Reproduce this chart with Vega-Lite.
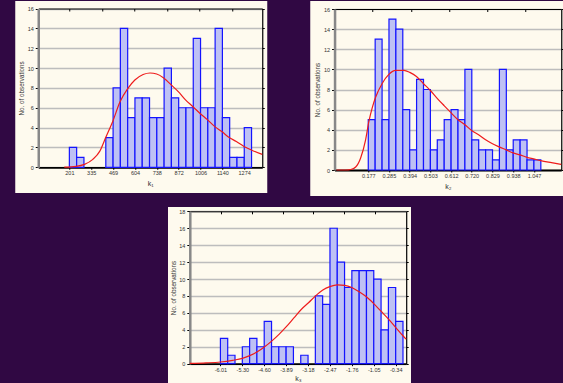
{
  "$schema": "https://vega.github.io/schema/vega-lite/v6.json",
  "background": "#300843",
  "padding": {"left": 15, "top": 1, "right": 0, "bottom": 0},
  "config": {
    "view": {"fill": "#fefaee", "stroke": null},
    "font": "Liberation Sans",
    "axis": {"labelColor": "#333333", "titleColor": "#333333", "labelFontSize": 5.5, "titleFontWeight": "normal", "tickColor": "#000000", "grid": false, "labelFont": "Liberation Sans", "titleFont": "Liberation Sans", "labelFlush": false, "labelOverlap": false}
  },
  "datasets": {
    "k1bins": [
      {"lo": 201.0, "hi": 245.7, "n": 2}, {"lo": 245.7, "hi": 290.5, "n": 1},
      {"lo": 424.7, "hi": 469.4, "n": 3}, {"lo": 469.4, "hi": 514.1, "n": 8},
      {"lo": 514.1, "hi": 558.9, "n": 14}, {"lo": 558.9, "hi": 603.6, "n": 5},
      {"lo": 603.6, "hi": 648.3, "n": 7}, {"lo": 648.3, "hi": 693.1, "n": 7},
      {"lo": 693.1, "hi": 737.8, "n": 5}, {"lo": 737.8, "hi": 782.5, "n": 5},
      {"lo": 782.5, "hi": 827.3, "n": 10}, {"lo": 827.3, "hi": 872.0, "n": 7},
      {"lo": 872.0, "hi": 916.7, "n": 6}, {"lo": 916.7, "hi": 961.5, "n": 6},
      {"lo": 961.5, "hi": 1006.2, "n": 13}, {"lo": 1006.2, "hi": 1050.9, "n": 6},
      {"lo": 1050.9, "hi": 1095.7, "n": 6}, {"lo": 1095.7, "hi": 1140.4, "n": 14},
      {"lo": 1140.4, "hi": 1185.1, "n": 5}, {"lo": 1185.1, "hi": 1229.9, "n": 1},
      {"lo": 1229.9, "hi": 1274.6, "n": 1}, {"lo": 1274.6, "hi": 1319.3, "n": 4}
    ],
    "k1fit": [
      {"x": 170, "y": 0.02}, {"x": 242, "y": 0.1}, {"x": 294, "y": 0.3}, {"x": 345, "y": 0.8},
      {"x": 387, "y": 1.6}, {"x": 424, "y": 3.0}, {"x": 469, "y": 4.7}, {"x": 512, "y": 6.6},
      {"x": 558, "y": 7.9}, {"x": 603, "y": 8.8}, {"x": 654, "y": 9.35}, {"x": 696, "y": 9.5},
      {"x": 737, "y": 9.4}, {"x": 780, "y": 9.0}, {"x": 826, "y": 8.3}, {"x": 871, "y": 7.6},
      {"x": 914, "y": 6.8}, {"x": 960, "y": 6.1}, {"x": 1005, "y": 5.4}, {"x": 1048, "y": 4.8},
      {"x": 1094, "y": 4.1}, {"x": 1137, "y": 3.6}, {"x": 1182, "y": 3.0}, {"x": 1226, "y": 2.6},
      {"x": 1273, "y": 2.1}, {"x": 1324, "y": 1.7}, {"x": 1385, "y": 1.3}
    ],
    "k2bins": [
      {"lo": 0.1770, "hi": 0.2132, "n": 5}, {"lo": 0.2132, "hi": 0.2495, "n": 13},
      {"lo": 0.2495, "hi": 0.2857, "n": 5}, {"lo": 0.2857, "hi": 0.3219, "n": 15},
      {"lo": 0.3219, "hi": 0.3582, "n": 14}, {"lo": 0.3582, "hi": 0.3944, "n": 6},
      {"lo": 0.3944, "hi": 0.4306, "n": 2}, {"lo": 0.4306, "hi": 0.4669, "n": 9},
      {"lo": 0.4669, "hi": 0.5031, "n": 8}, {"lo": 0.5031, "hi": 0.5393, "n": 2},
      {"lo": 0.5393, "hi": 0.5756, "n": 3}, {"lo": 0.5756, "hi": 0.6118, "n": 5},
      {"lo": 0.6118, "hi": 0.6480, "n": 6}, {"lo": 0.6480, "hi": 0.6843, "n": 5},
      {"lo": 0.6843, "hi": 0.7205, "n": 10}, {"lo": 0.7205, "hi": 0.7567, "n": 3},
      {"lo": 0.7567, "hi": 0.7930, "n": 2}, {"lo": 0.7930, "hi": 0.8292, "n": 2},
      {"lo": 0.8292, "hi": 0.8654, "n": 1}, {"lo": 0.8654, "hi": 0.9017, "n": 10},
      {"lo": 0.9017, "hi": 0.9379, "n": 2}, {"lo": 0.9379, "hi": 0.9741, "n": 3},
      {"lo": 0.9741, "hi": 1.0104, "n": 3}, {"lo": 1.0104, "hi": 1.0466, "n": 1},
      {"lo": 1.0466, "hi": 1.0828, "n": 1}
    ],
    "k2fit": [
      {"x": 0.01, "y": 0}, {"x": 0.058, "y": 0}, {"x": 0.085, "y": 0.05}, {"x": 0.111, "y": 0.3},
      {"x": 0.137, "y": 1.2}, {"x": 0.163, "y": 3.0}, {"x": 0.180, "y": 4.8}, {"x": 0.198, "y": 6.2},
      {"x": 0.215, "y": 7.2}, {"x": 0.250, "y": 8.6}, {"x": 0.285, "y": 9.5}, {"x": 0.320, "y": 9.9},
      {"x": 0.364, "y": 9.9}, {"x": 0.395, "y": 9.7}, {"x": 0.430, "y": 9.3}, {"x": 0.466, "y": 8.6},
      {"x": 0.503, "y": 7.9}, {"x": 0.540, "y": 7.1}, {"x": 0.575, "y": 6.4}, {"x": 0.611, "y": 5.7},
      {"x": 0.648, "y": 5.0}, {"x": 0.684, "y": 4.5}, {"x": 0.721, "y": 3.9}, {"x": 0.756, "y": 3.5},
      {"x": 0.793, "y": 3.0}, {"x": 0.829, "y": 2.6}, {"x": 0.864, "y": 2.3}, {"x": 0.901, "y": 2.0},
      {"x": 0.937, "y": 1.7}, {"x": 0.974, "y": 1.5}, {"x": 1.010, "y": 1.26}, {"x": 1.045, "y": 1.1},
      {"x": 1.082, "y": 0.93}, {"x": 1.139, "y": 0.73}, {"x": 1.19, "y": 0.56}
    ],
    "k3bins": [
      {"lo": -6.010, "hi": -5.774, "n": 3}, {"lo": -5.774, "hi": -5.538, "n": 1},
      {"lo": -5.301, "hi": -5.065, "n": 2}, {"lo": -5.065, "hi": -4.829, "n": 3},
      {"lo": -4.829, "hi": -4.593, "n": 2}, {"lo": -4.593, "hi": -4.356, "n": 5},
      {"lo": -4.356, "hi": -4.120, "n": 2}, {"lo": -4.120, "hi": -3.884, "n": 2},
      {"lo": -3.884, "hi": -3.648, "n": 2}, {"lo": -3.411, "hi": -3.175, "n": 1},
      {"lo": -2.939, "hi": -2.703, "n": 8}, {"lo": -2.703, "hi": -2.466, "n": 7},
      {"lo": -2.466, "hi": -2.230, "n": 16}, {"lo": -2.230, "hi": -1.994, "n": 12},
      {"lo": -1.994, "hi": -1.758, "n": 9}, {"lo": -1.758, "hi": -1.521, "n": 11},
      {"lo": -1.521, "hi": -1.285, "n": 11}, {"lo": -1.285, "hi": -1.049, "n": 11},
      {"lo": -1.049, "hi": -0.813, "n": 10}, {"lo": -0.813, "hi": -0.576, "n": 4},
      {"lo": -0.576, "hi": -0.340, "n": 9}, {"lo": -0.340, "hi": -0.104, "n": 5}
    ],
    "k3fit": [
      {"x": -7.0, "y": 0.04}, {"x": -6.473, "y": 0.1}, {"x": -6.01, "y": 0.2}, {"x": -5.612, "y": 0.4},
      {"x": -5.300, "y": 0.63}, {"x": -5.063, "y": 0.95}, {"x": -4.816, "y": 1.4}, {"x": -4.579, "y": 2.0},
      {"x": -4.343, "y": 2.7}, {"x": -4.106, "y": 3.5}, {"x": -3.870, "y": 4.4}, {"x": -3.633, "y": 5.4},
      {"x": -3.396, "y": 6.4}, {"x": -3.160, "y": 7.2}, {"x": -2.934, "y": 8.0}, {"x": -2.697, "y": 8.7},
      {"x": -2.471, "y": 9.1}, {"x": -2.224, "y": 9.3}, {"x": -1.987, "y": 9.25}, {"x": -1.761, "y": 9.0},
      {"x": -1.525, "y": 8.5}, {"x": -1.288, "y": 7.9}, {"x": -1.051, "y": 7.1}, {"x": -0.815, "y": 6.2},
      {"x": -0.578, "y": 5.3}, {"x": -0.342, "y": 4.3}, {"x": -0.105, "y": 3.3}, {"x": 0.0, "y": 2.9}
    ]
  },
  "spacing": 11,
  "center": true,
  "vconcat": [
    {
      "spacing": 43,
      "hconcat": [
        {
          "width": 252, "height": 192,
          "resolve": {"axis": {"x": "independent", "y": "independent"}},
          "layer": [
            {
              "data": {"name": "k1bins"},
              "mark": {"type": "rect", "fill": "#bec1f4", "stroke": "#1414ff", "strokeWidth": 1.2},
              "encoding": {
                "x": {"field": "lo", "type": "quantitative", "scale": {"domain": [10, 1385], "range": [23, 247], "zero": false, "nice": false},
                  "axis": {"orient": "bottom", "offset": -25.7, "values": [201, 335, 469, 604, 738, 872, 1006, 1140, 1274], "format": "d", "title": "k₁", "titleFontSize": 7, "titlePadding": 3, "tickSize": 2, "labelPadding": 1.5, "domainColor": "#000000", "domainWidth": 1.8}},
                "x2": {"field": "hi"},
                "y": {"field": "n", "type": "quantitative", "scale": {"domain": [0, 16], "range": [166.3, 7.5], "zero": false, "nice": false},
                  "axis": {"orient": "left", "offset": -23, "values": [0, 2, 4, 6, 8, 10, 12, 14, 16], "title": "No. of observations", "titleFontSize": 6.3, "titlePadding": 3, "tickSize": 3, "labelPadding": 2, "domainColor": "#888888", "domainWidth": 2.5, "grid": true, "gridColor": "#bdbdbd", "gridWidth": 1.6}},
                "y2": {"datum": 0}
              }
            },
            {
              "data": {"name": "k1fit"},
              "mark": {"type": "line", "color": "#ee1c1c", "strokeWidth": 1.2, "interpolate": "monotone"},
              "encoding": {
                "x": {"field": "x", "type": "quantitative", "scale": {"domain": [10, 1385], "range": [23, 247], "zero": false, "nice": false},
                  "axis": {"orient": "top", "offset": -7.5, "values": [200, 400, 600, 800, 1000, 1200], "labels": false, "title": null, "tickSize": -2.5, "domainColor": "#000000", "domainWidth": 1}},
                "y": {"field": "y", "type": "quantitative", "scale": {"domain": [0, 16], "range": [166.3, 7.5], "zero": false, "nice": false},
                  "axis": {"orient": "right", "offset": -5, "values": [0, 2, 4, 6, 8, 10, 12, 14, 16], "labels": false, "title": null, "tickSize": 2, "domainColor": "#000000", "domainWidth": 1.2}}
              }
            }
          ]
        },
        {
          "width": 253, "height": 195,
          "resolve": {"axis": {"x": "independent", "y": "independent"}},
          "layer": [
            {
              "data": {"name": "k2bins"},
              "mark": {"type": "rect", "fill": "#bec1f4", "stroke": "#1414ff", "strokeWidth": 1.2},
              "encoding": {
                "x": {"field": "lo", "type": "quantitative", "scale": {"domain": [0, 1.19], "range": [24.3, 251], "zero": false, "nice": false},
                  "axis": {"orient": "bottom", "offset": -26, "values": [0.177, 0.285, 0.394, 0.503, 0.612, 0.720, 0.829, 0.938, 1.047], "format": ".3f", "title": "k₂", "titleFontSize": 7, "titlePadding": 3, "tickSize": 2, "labelPadding": 1.5, "domainColor": "#000000", "domainWidth": 1.8}},
                "x2": {"field": "hi"},
                "y": {"field": "n", "type": "quantitative", "scale": {"domain": [0, 16], "range": [169, 8], "zero": false, "nice": false},
                  "axis": {"orient": "left", "offset": -24.3, "values": [0, 2, 4, 6, 8, 10, 12, 14, 16], "title": "No. of observations", "titleFontSize": 6.3, "titlePadding": 3, "tickSize": 3, "labelPadding": 2, "domainColor": "#888888", "domainWidth": 2.5, "grid": true, "gridColor": "#bdbdbd", "gridWidth": 1.6}},
                "y2": {"datum": 0}
              }
            },
            {
              "data": {"name": "k2fit"},
              "mark": {"type": "line", "color": "#ee1c1c", "strokeWidth": 1.2, "interpolate": "monotone"},
              "encoding": {
                "x": {"field": "x", "type": "quantitative", "scale": {"domain": [0, 1.19], "range": [24.3, 251], "zero": false, "nice": false},
                  "axis": {"orient": "top", "offset": -8, "values": [0.2, 0.4, 0.6, 0.8, 1.0], "labels": false, "title": null, "tickSize": -2.5, "domainColor": "#000000", "domainWidth": 1}},
                "y": {"field": "y", "type": "quantitative", "scale": {"domain": [0, 16], "range": [169, 8], "zero": false, "nice": false},
                  "axis": {"orient": "right", "offset": -2, "values": [0, 2, 4, 6, 8, 10, 12, 14, 16], "labels": false, "title": null, "tickSize": 2, "domainColor": "#000000", "domainWidth": 1.2}}
              }
            }
          ]
        }
      ]
    },
    {
      "width": 243, "height": 176,
      "resolve": {"axis": {"x": "independent", "y": "independent"}},
      "layer": [
        {
          "data": {"name": "k3bins"},
          "mark": {"type": "rect", "fill": "#bec1f4", "stroke": "#1414ff", "strokeWidth": 1.2},
          "encoding": {
            "x": {"field": "lo", "type": "quantitative", "scale": {"domain": [-7, 0], "range": [21.8, 238.2], "zero": false, "nice": false},
              "axis": {"orient": "bottom", "offset": -19.3, "values": [-6.01, -5.30, -4.60, -3.89, -3.18, -2.47, -1.76, -1.05, -0.34], "labelExpr": "replace(format(datum.value, '.2f'), '\u2212', '-')", "title": "k₃", "titleFontSize": 7, "titlePadding": 2, "tickSize": 2, "labelPadding": 1.5, "domainColor": "#000000", "domainWidth": 1.8}},
            "x2": {"field": "hi"},
            "y": {"field": "n", "type": "quantitative", "scale": {"domain": [0, 18], "range": [156.7, 4.3], "zero": false, "nice": false},
              "axis": {"orient": "left", "offset": -21.8, "values": [0, 2, 4, 6, 8, 10, 12, 14, 16, 18], "title": "No. of observations", "titleFontSize": 6.3, "titlePadding": 2, "tickSize": 3, "labelPadding": 2, "domainColor": "#888888", "domainWidth": 2.5, "grid": true, "gridColor": "#bdbdbd", "gridWidth": 1.6}},
            "y2": {"datum": 0}
          }
        },
        {
          "data": {"name": "k3fit"},
          "mark": {"type": "line", "color": "#ee1c1c", "strokeWidth": 1.2, "interpolate": "monotone"},
          "encoding": {
            "x": {"field": "x", "type": "quantitative", "scale": {"domain": [-7, 0], "range": [21.8, 238.2], "zero": false, "nice": false},
              "axis": {"orient": "top", "offset": -4.3, "values": [-6, -5, -4, -3, -2, -1], "labels": false, "title": null, "tickSize": -2.5, "domainColor": "#000000", "domainWidth": 1}},
            "y": {"field": "y", "type": "quantitative", "scale": {"domain": [0, 18], "range": [156.7, 4.3], "zero": false, "nice": false},
              "axis": {"orient": "right", "offset": -4.8, "values": [0, 2, 4, 6, 8, 10, 12, 14, 16, 18], "labels": false, "title": null, "tickSize": 2, "domainColor": "#000000", "domainWidth": 1.2}}
          }
        }
      ]
    }
  ]
}
